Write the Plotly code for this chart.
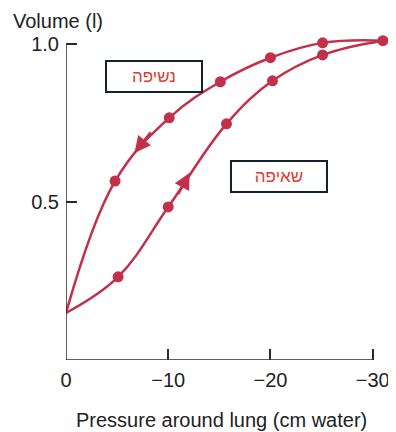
import plotly.graph_objects as go

# Inflation (שאיפה) – lower branch
insp_pressure = [0, -5.1, -10.0, -15.7, -20.2, -25.1, -31.0]
insp_volume = [0.149, 0.263, 0.484, 0.747, 0.883, 0.965, 1.01]

# Deflation (נשיפה) – upper branch
exp_pressure = [-31.0, -25.1, -20.0, -15.1, -10.1, -4.8, 0]
exp_volume = [1.01, 1.003, 0.956, 0.880, 0.766, 0.566, 0.149]

x_tickvals = [0, -10, -20, -30]
x_ticktext = ["0", "\u221210", "\u221220", "\u221230"]
y_tickvals = [0.5, 1.0]
y_ticktext = ["0.5", "1.0"]

RED = "#C3304A"
LABEL_RED = "#E33A2E"
BOX = "#13222E"
AXIS = "#2b2b2b"
TXT = "#222222"
FONT = "Liberation Sans, Arial, DejaVu Sans, sans-serif"

fig = go.Figure()

for xs, ys in [(insp_pressure, insp_volume), (exp_pressure, exp_volume)]:
    fig.add_trace(go.Scatter(x=xs, y=ys, mode="lines",
                             line=dict(color=RED, width=2.5, shape="spline", smoothing=1.1),
                             hoverinfo="skip", showlegend=False, cliponaxis=False))

fig.add_trace(go.Scatter(x=insp_pressure[1:], y=insp_volume[1:], mode="markers",
                         marker=dict(color=RED, size=11), showlegend=False, cliponaxis=False))
fig.add_trace(go.Scatter(x=exp_pressure[1:-1], y=exp_volume[1:-1], mode="markers",
                         marker=dict(color=RED, size=11), showlegend=False, cliponaxis=False))

# axis lines
fig.add_shape(type="line", x0=0, x1=-30, y0=0, y1=0, xref="x", yref="y",
              line=dict(color=AXIS, width=1.5))
fig.add_shape(type="line", x0=0, x1=0, y0=0, y1=1.0, xref="x", yref="y",
              line=dict(color=AXIS, width=1.5))

# direction arrows
fig.add_annotation(x=-6.7, y=0.655, ax=-8.4, ay=0.725, xref="x", yref="y", axref="x", ayref="y",
                   showarrow=True, arrowhead=2, arrowsize=1.3, arrowwidth=2.5, arrowcolor=RED,
                   standoff=0, text="")
fig.add_annotation(x=-12.1, y=0.592, ax=-10.9, ay=0.52, xref="x", yref="y", axref="x", ayref="y",
                   showarrow=True, arrowhead=2, arrowsize=1.3, arrowwidth=2.5, arrowcolor=RED,
                   standoff=0, text="")

# labels in boxes
fig.add_annotation(x=-8.6, y=0.896, xref="x", yref="y", text="נשיפה", showarrow=False,
                   font=dict(family=FONT, size=17, color=LABEL_RED),
                   bordercolor=BOX, borderwidth=2, borderpad=1, bgcolor="white",
                   width=92, height=27)
fig.add_annotation(x=-20.8, y=0.581, xref="x", yref="y", text="שאיפה", showarrow=False,
                   font=dict(family=FONT, size=17, color=LABEL_RED),
                   bordercolor=BOX, borderwidth=2, borderpad=1, bgcolor="white",
                   width=92, height=27)

# axis titles (paper coordinates: plot area spans x 66..388 px, y 28..360 px of the page)
fig.add_annotation(x=(11 - 66) / 322, y=(360 - 21) / 332, xref="paper", yref="paper",
                   xanchor="left", yanchor="middle",
                   text="Volume (l)", showarrow=False,
                   font=dict(family=FONT, size=20, color=TXT))
fig.add_annotation(x=(221 - 66) / 322, y=(360 - 420) / 332, xref="paper", yref="paper",
                   xanchor="center", yanchor="middle",
                   text="Pressure around lung (cm water)", showarrow=False,
                   font=dict(family=FONT, size=20, color=TXT))

# page body has an 8px margin, so the figure is drawn 8px smaller and offset
fig.update_layout(
    width=388, height=424,
    margin=dict(l=58, r=8, t=20, b=72),
    paper_bgcolor="white", plot_bgcolor="white",
    font=dict(family=FONT, size=20, color=TXT),
    xaxis=dict(range=[0, -31.5], showgrid=False, zeroline=False, showline=False,
               automargin=False, ticklabelstandoff=6,
               tickvals=x_tickvals, ticktext=x_ticktext, ticks="inside", ticklen=11,
               tickwidth=1.5, tickcolor=AXIS, tickfont=dict(size=20, color=TXT)),
    yaxis=dict(range=[0, 1.05], showgrid=False, zeroline=False, showline=False,
               automargin=False, ticklabelstandoff=6,
               tickvals=y_tickvals, ticktext=y_ticktext, ticks="inside", ticklen=11,
               tickwidth=1.5, tickcolor=AXIS, tickfont=dict(size=20, color=TXT)),
)

fig.write_html("out.html")
